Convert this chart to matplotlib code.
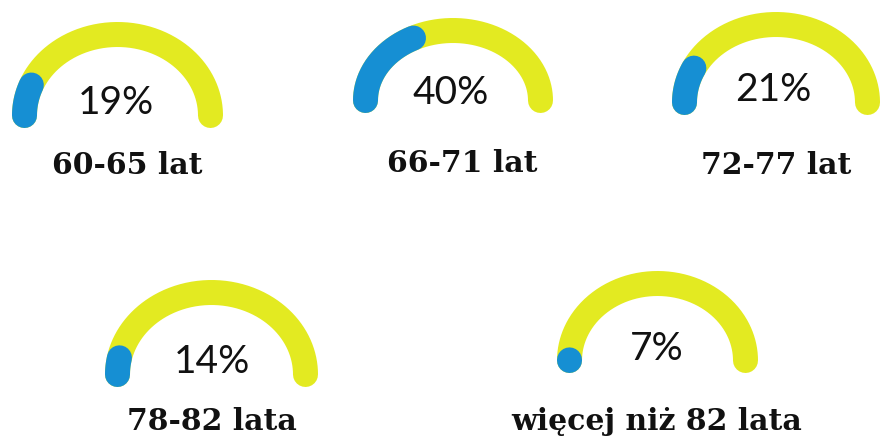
import numpy as np
import matplotlib.pyplot as plt

# age groups and their share (%)
labels = ["60-65 lat", "66-71 lat", "72-77 lat", "78-82 lata", "więcej niż 82 lata"]
values = [19, 40, 21, 14, 7]

# gauge layout in pixels: centre x, centre y (ends of arc), radius x, radius y
layout = [(117.5, 115.5, 93, 81),
          (453, 100.5, 87.5, 70),
          (776, 102.5, 91.5, 78),
          (211.5, 374.5, 94, 82),
          (657.5, 360.5, 88, 77)]
pct_pos = [(116, 103), (451, 93), (773, 90), (212, 362), (657, 349)]
lab_pos = [(127, 165), (462, 163), (776, 165), (212, 421), (657, 421)]

track_col = "#E3EA21"
fill_col = "#168FD3"
w_px = 25
lw = w_px * 72 / 100

fig = plt.figure(figsize=(8.84, 4.48), dpi=100)
ax = fig.add_axes([0, 0, 1, 1])
ax.set_xlim(0, 884)
ax.set_ylim(448, 0)
ax.axis("off")

for v, lab, (cx, cy, rx, ry), pp, lp in zip(values, labels, layout, pct_pos, lab_pos):
    t = np.linspace(np.pi, 0, 400)
    x = cx + rx * np.cos(t)
    y = cy - ry * np.sin(t)
    ax.plot(x, y, color=track_col, lw=lw, solid_capstyle="round", zorder=1)

    # visible length of blue (caps included) is v% of visible track length
    seg = np.hypot(np.diff(x), np.diff(y))
    s = np.concatenate([[0], np.cumsum(seg)])
    target = v / 100 * (s[-1] + w_px) - w_px
    target = max(target, 0.5)
    n = max(np.searchsorted(s, target), 2)
    ax.plot(x[:n], y[:n], color=fill_col, lw=lw, solid_capstyle="round", zorder=2)

    ax.text(pp[0], pp[1], f"{v}%", ha="center", va="center", fontsize=28,
            family="Lato", weight="normal", color="#111111")
    ax.text(lp[0], lp[1], lab, ha="center", va="center", fontsize=21.5,
            family="DejaVu Serif", weight="bold", color="#111111")

fig.savefig("out.png", dpi=100)
